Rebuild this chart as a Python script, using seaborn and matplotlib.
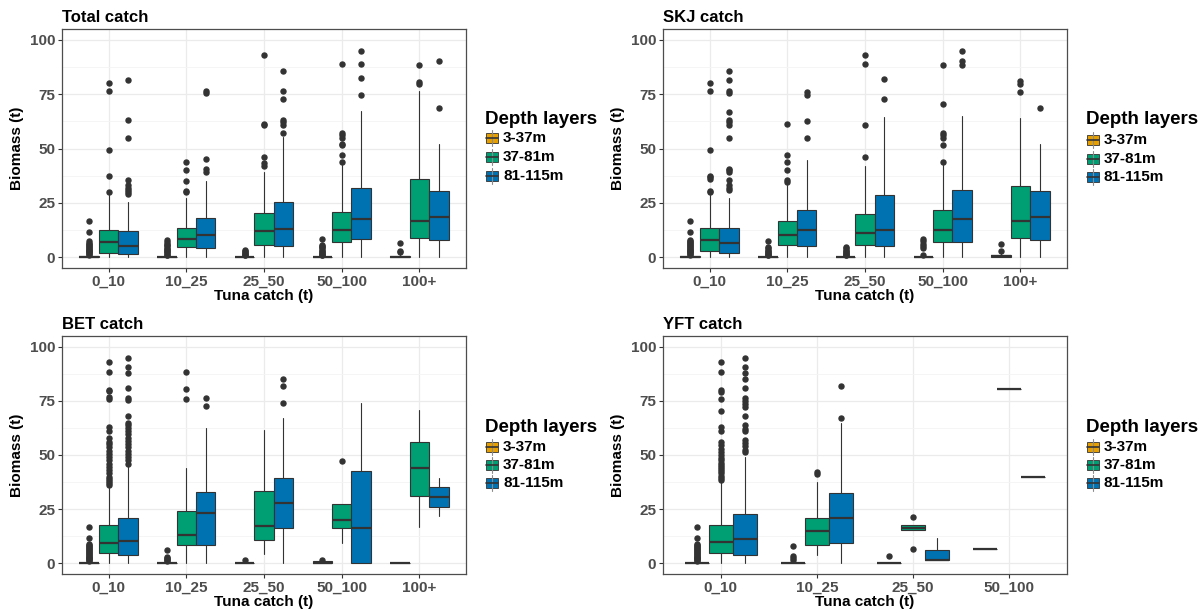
import matplotlib
matplotlib.use("Agg")
import matplotlib.pyplot as plt
from matplotlib.patches import Rectangle
from matplotlib.lines import Line2D
from matplotlib.ticker import MultipleLocator
import seaborn as sns

sns.set_theme(style="whitegrid")
plt.rcParams["font.family"] = ["Liberation Sans", "DejaVu Sans"]

depths = ["3-37m", "37-81m", "81-115m"]
depth_colors = ["#E69F00", "#009E73", "#0072B2"]
categories = ["0_10", "10_25", "25_50", "50_100", "100+"]
yft_categories = ["0_10", "10_25", "25_50", "50_100"]

# Box statistics per catch class, one tuple per depth layer:
# (lower whisker, Q1, median, Q3, upper whisker)
total_stats = [
    [(0, 0, 0, 0.3, 0.6), (0, 2.1, 7.0, 12.6, 28.8), (0, 1.4, 5.2, 11.9, 25.6)],
    [(0, 0, 0, 0.2, 0.4), (0, 4.7, 8.4, 13.6, 27.1), (0, 4.3, 10.0, 17.9, 35.2)],
    [(0, 0, 0, 0.2, 0.4), (0, 5.8, 11.8, 20.2, 39.4), (0, 5.1, 13.0, 25.6, 55.3)],
    [(0, 0, 0, 0.2, 0.4), (0, 6.9, 12.6, 21.0, 42.6), (0, 8.4, 17.6, 32.0, 67.2)],
    [(0, 0, 0.2, 0.6, 1.2), (0, 8.7, 16.5, 36.0, 76.3), (0, 7.8, 18.5, 30.6, 52.0)],
]
total_fliers = [
    [[1.0, 1.4, 1.8, 2.2, 2.6, 3.0, 3.4, 3.8, 4.2, 4.6, 5.0, 5.5, 6.0, 6.6, 7.2, 11.5, 16.5],
     [30.0, 37.5, 49.5, 76.5, 80.0],
     [29.0, 30.0, 31.0, 32.0, 33.0, 35.5, 55.0, 63.0, 81.5]],
    [[0.8, 1.2, 1.7, 2.2, 2.7, 3.2, 3.7, 4.3, 4.9, 5.5, 6.2, 7.0, 7.8],
     [30.0, 30.5, 35.0, 40.0, 44.0],
     [39.0, 40.5, 45.0, 75.5, 76.5]],
    [[0.8, 1.2, 1.6, 2.0, 2.5, 3.0, 3.5],
     [42.0, 43.5, 46.0, 61.0, 61.5, 93.0],
     [57.0, 61.0, 62.0, 63.0, 73.0, 76.5, 85.5]],
    [[0.8, 1.2, 1.6, 2.0, 2.5, 3.0, 3.5, 4.0, 4.5, 5.0, 5.5, 8.5],
     [44.0, 47.0, 51.5, 52.0, 55.0, 56.0, 57.0, 89.0],
     [74.5, 82.5, 89.0, 95.0]],
    [[2.5, 3.0, 6.5],
     [79.5, 80.5, 88.5],
     [68.5, 90.5]],
]

skj_stats = [
    [(0, 0, 0, 0.3, 0.6), (0, 3.0, 8.1, 13.5, 28.5), (0, 2.1, 6.4, 13.5, 27.0)],
    [(0, 0, 0, 0.2, 0.4), (0, 5.8, 10.0, 16.8, 33.4), (0, 5.1, 12.3, 21.9, 44.9)],
    [(0, 0, 0, 0.2, 0.4), (0, 5.4, 11.0, 19.9, 42.0), (0, 5.1, 12.3, 28.8, 64.3)],
    [(0, 0, 0, 0.2, 0.4), (0, 6.9, 12.3, 21.6, 42.6), (0, 7.0, 17.6, 31.1, 65.1)],
    [(0, 0, 0.3, 1.2, 2.0), (0, 8.7, 16.5, 32.9, 63.9), (0, 7.8, 18.5, 30.6, 52.0)],
]
skj_fliers = [
    [[1.0, 1.4, 1.8, 2.2, 2.6, 3.0, 3.4, 3.8, 4.2, 4.6, 5.0, 5.5, 6.0, 6.5, 7.0, 7.5, 8.0, 11.5, 16.5],
     [30.0, 30.5, 36.0, 37.0, 37.5, 49.5, 76.5, 80.0],
     [31.0, 32.0, 33.0, 35.5, 39.0, 40.0, 40.5, 55.0, 61.0, 62.0, 63.0, 67.0,
      75.5, 76.5, 81.5, 85.5]],
    [[0.8, 1.2, 1.6, 2.0, 2.5, 3.0, 3.5, 4.0, 4.5, 7.5],
     [34.5, 35.5, 40.0, 44.0, 47.0, 61.5],
     [55.0, 62.5, 74.5, 76.0]],
    [[0.8, 1.2, 1.6, 2.0, 2.5, 3.0, 3.5, 4.0, 4.5],
     [46.0, 61.0, 89.0, 93.0],
     [73.0, 82.0]],
    [[1.0, 4.0, 5.0, 6.0, 7.5, 8.5],
     [44.0, 51.5, 55.0, 56.0, 57.0, 70.5, 88.5],
     [88.5, 90.5, 95.0]],
    [[3.0, 6.0],
     [76.0, 79.5, 81.0],
     [68.5]],
]

bet_stats = [
    [(0, 0, 0, 0.3, 0.6), (0, 4.5, 9.4, 17.5, 34.7), (0, 3.7, 10.3, 20.7, 45.3)],
    [(0, 0, 0, 0.2, 0.4), (0, 8.6, 13.2, 24.1, 43.9), (0, 8.4, 23.0, 32.7, 62.7)],
    [(0, 0, 0, 0.2, 0.4), (4.3, 10.6, 17.4, 33.5, 61.4), (0, 16.3, 27.8, 39.2, 67.3)],
    [(0, 0, 0.3, 0.8, 1.0), (9.1, 16.3, 20.0, 27.2, 27.2), (0, 0, 16.3, 42.4, 74.0)],
    [(0, 0, 0.2, 0.3, 0.5), (16.6, 31.2, 43.8, 56.2, 70.7), (22.0, 26.1, 30.7, 35.0, 39.3)],
]
bet_fliers = [
    [[1.0, 1.4, 1.8, 2.2, 2.6, 3.0, 3.4, 3.8, 4.2, 4.6, 5.0, 5.5, 6.0, 6.5, 7.0, 7.5, 8.0, 8.5, 9.0, 11.5, 16.5],
     [36.0, 37.0, 38.0, 39.0, 40.0, 41.5, 43.0, 44.5, 46.0, 47.5, 49.0, 50.5, 52.0,
      53.5, 55.0, 56.0, 58.0, 61.0, 63.0, 76.0, 77.0, 79.5, 80.0, 88.5, 93.0],
     [46.0, 47.5, 49.0, 50.5, 52.0, 53.5, 55.0, 56.5, 58.0, 59.5, 61.0, 62.5, 64.0,
      65.0, 68.0, 75.5, 76.5, 81.0, 88.0, 90.5, 95.0]],
    [[1.0, 1.5, 2.0, 2.5, 3.0, 6.0],
     [76.0, 80.5, 88.5],
     [72.5, 76.5]],
    [[1.5],
     [],
     [74.0, 82.0, 85.0]],
    [[1.5],
     [47.0],
     []],
    [[],
     [],
     []],
]

yft_stats = [
    [(0, 0, 0, 0.3, 0.6), (0, 4.5, 9.7, 17.8, 38.0), (0, 4.0, 11.1, 22.9, 49.3)],
    [(0, 0, 0, 0.2, 0.4), (3.7, 8.4, 15.0, 20.7, 37.5), (0, 9.5, 21.0, 32.3, 65.0)],
    [(0, 0, 0, 0.2, 0.4), (15.5, 15.5, 16.3, 17.5, 17.5), (1.3, 1.3, 1.7, 6.0, 11.6)],
    [(6.5, 6.5, 6.5, 6.5, 6.5), (80.5, 80.5, 80.5, 80.5, 80.5), (39.7, 39.7, 39.7, 39.7, 39.7)],
]
yft_fliers = [
    [[1.0, 1.4, 1.8, 2.2, 2.6, 3.0, 3.4, 3.8, 4.2, 4.6, 5.0, 5.5, 6.0, 6.5, 7.0, 7.5, 8.0, 8.5, 9.0, 11.5, 16.5],
     [38.5, 39.5, 40.5, 41.5, 42.5, 43.5, 44.5, 45.5, 46.5, 47.5, 48.5, 50.0, 51.5,
      53.0, 54.5, 56.0, 61.0, 63.0, 70.5, 76.0, 79.0, 80.0, 88.5, 93.0],
     [51.5, 52.5, 54.0, 55.5, 57.0, 61.0, 62.0, 64.0, 68.0, 72.0, 73.5, 75.0, 76.5,
      81.0, 85.0, 88.0, 90.5, 95.0]],
    [[1.5, 2.5, 3.5, 8.0],
     [41.0, 42.0],
     [67.0, 82.0]],
    [[3.5],
     [6.5, 21.5],
     []],
    [[], [], []],
]

panels = [
    ("Total catch", categories, total_stats, total_fliers),
    ("SKJ catch", categories, skj_stats, skj_fliers),
    ("BET catch", categories, bet_stats, bet_fliers),
    ("YFT catch", yft_categories, yft_stats, yft_fliers),
]

W, H = 1204, 614
fig = plt.figure(figsize=(W / 100, H / 100), dpi=100)
fig.patch.set_facecolor("white")

# panel boxes in pixels: left, top, right, bottom
panel_px = [(62, 29, 466, 268), (663, 29, 1067, 268),
            (62, 336, 466, 574), (663, 336, 1067, 574)]
legend_px = [(485, 120, [138, 157, 176]), (1086, 120, [140, 159, 177]),
             (485, 427, [447, 465, 483]), (1086, 427, [447, 465, 483])]

edge = "#333333"
offsets = [-0.25, 0.0, 0.25]

for (title, cats, stats, fliers), (l, t, r, b) in zip(panels, panel_px):
    ax = fig.add_axes([l / W, 1 - b / H, (r - l) / W, (b - t) / H])
    ax.set_facecolor("white")
    for ci, cat in enumerate(cats):
        for di in range(3):
            lo, q1, med, q3, hi = stats[ci][di]
            st = dict(whislo=lo, q1=q1, med=med, q3=q3, whishi=hi,
                      fliers=fliers[ci][di], label=cat)
            ax.bxp([st], positions=[ci + offsets[di]], widths=0.25,
                   showcaps=False, patch_artist=True, manage_ticks=False,
                   boxprops=dict(facecolor=depth_colors[di], edgecolor=edge, linewidth=0.8),
                   medianprops=dict(color=edge, linewidth=1.6),
                   whiskerprops=dict(color=edge, linewidth=0.8),
                   flierprops=dict(marker="o", markersize=3.6, markerfacecolor=edge,
                                   markeredgecolor=edge, linestyle="none"))
    ax.set_xlim(-0.6, len(cats) - 0.4)
    ax.set_ylim(-5.0, 105.0)
    ax.set_xticks(range(len(cats)))
    ax.set_xticklabels(cats)
    ax.yaxis.set_major_locator(MultipleLocator(25))
    ax.yaxis.set_minor_locator(MultipleLocator(12.5))
    ax.set_yticks([0, 25, 50, 75, 100])
    ax.grid(True, which="major", color="#EBEBEB", linewidth=0.9)
    ax.grid(True, which="minor", axis="y", color="#F4F4F4", linewidth=0.6)
    ax.set_axisbelow(True)
    for sp in ax.spines.values():
        sp.set_color("#4D4D4D")
        sp.set_linewidth(0.9)
    ax.tick_params(axis="both", which="major", length=3, width=0.8, color="#333333",
                   labelsize=11, labelcolor="#4D4D4D", pad=2, bottom=True, left=True)
    ax.tick_params(axis="both", which="minor", length=0)
    for lab in ax.get_xticklabels() + ax.get_yticklabels():
        lab.set_fontweight("bold")
    ax.set_xlabel("Tuna catch (t)", fontsize=11, fontweight="bold", color="black", labelpad=0)
    ax.set_ylabel("Biomass (t)", fontsize=11, fontweight="bold", color="black", labelpad=4)
    ax.set_title(title, loc="left", fontsize=12, fontweight="bold", color="black", pad=5)

# legends drawn in figure pixel coordinates
def fx(x):
    return x / W

def fy(y):
    return 1 - y / H

for lx, ty, rows in legend_px:
    fig.text(fx(lx), fy(ty), "Depth layers", fontsize=13.5, fontweight="bold",
             ha="left", va="center", color="black")
    for yy, name, col in zip(rows, depths, depth_colors):
        kx0, kx1 = lx + 1, lx + 13
        fig.add_artist(Line2D([fx((kx0 + kx1) / 2)] * 2, [fy(yy - 8), fy(yy + 8)],
                              color="#8C8C8C", linewidth=0.8))
        fig.add_artist(Rectangle((fx(kx0), fy(yy + 5)), (kx1 - kx0) / W, 10 / H,
                                 facecolor=col, edgecolor=edge, linewidth=0.6,
                                 transform=fig.transFigure))
        fig.add_artist(Line2D([fx(kx0), fx(kx1)], [fy(yy), fy(yy)], color=edge, linewidth=1.2))
        fig.text(fx(lx + 18), fy(yy), name, fontsize=11, fontweight="bold",
                 ha="left", va="center", color="black")

fig.savefig("out.png", dpi=100, facecolor="white")
